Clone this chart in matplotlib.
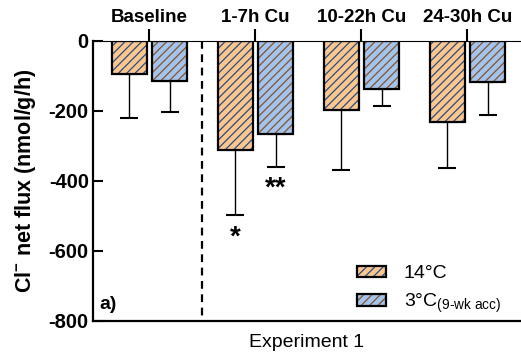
import matplotlib
matplotlib.use('Agg')
import matplotlib.pyplot as plt
import numpy as np
from matplotlib.patches import Patch

plt.rcParams['font.family'] = ['Liberation Sans', 'DejaVu Sans']
plt.rcParams['mathtext.fontset'] = 'custom'
plt.rcParams['mathtext.rm'] = 'Liberation Sans'
plt.rcParams['mathtext.it'] = 'Liberation Sans:italic'
plt.rcParams['mathtext.bf'] = 'Liberation Sans:bold'
plt.rcParams['hatch.linewidth'] = 0.9

# data (nmol/g/h)
groups = ['Baseline', '1-7h Cu', '10-22h Cu', '24-30h Cu']
warm_mean = [-95, -311, -198, -232]   # 14°C
warm_sd = [125, 186, 170, 130]
cold_mean = [-115, -265, -137, -116]  # 3°C (9-wk acc)
cold_sd = [88, 95, 48, 95]
stars_warm = ['', '*', '', '']
stars_cold = ['', '**', '', '']
yticks = [0, -200, -400, -600, -800]

orange = '#FFC68C'
blue = '#A2C4F0'
hatch_on_orange = '#1F4E8A'
hatch_on_blue = '#8A5420'

fig = plt.figure(figsize=(5.21, 3.56), dpi=100)
ax = fig.add_axes([93 / 521, 1 - 321 / 356, 1 - 93 / 521, (321 - 41) / 356])

x = np.arange(len(groups))
w = 0.324
off = 0.19


def draw(xpos, mean, sd, face, hcol):
    # hatched fill first (hatch takes edge colour), black outline on top
    ax.bar(xpos, mean, w, color=face, edgecolor=hcol, hatch='////', linewidth=0, zorder=2)
    ax.bar(xpos, mean, w, fill=False, edgecolor='black', linewidth=1.6, zorder=3)
    ax.errorbar(xpos, mean, yerr=[sd, np.zeros(len(sd))], fmt='none', ecolor='black',
                elinewidth=1, capsize=6.5, capthick=1.5, zorder=1)


draw(x - off, warm_mean, warm_sd, orange, hatch_on_orange)
draw(x + off, cold_mean, cold_sd, blue, hatch_on_blue)

for i in range(len(groups)):
    if stars_warm[i]:
        ax.text(x[i] - off, warm_mean[i] - warm_sd[i] - 28, stars_warm[i], ha='center', va='top',
                fontsize=20, fontweight='bold')
    if stars_cold[i]:
        ax.text(x[i] + off, cold_mean[i] - cold_sd[i] - 25, stars_cold[i], ha='center', va='top',
                fontsize=20, fontweight='bold')

# separator between baseline and exposure
ax.plot([0.5, 0.5], [0, -800], color='black', linestyle=(0, (3.5, 2.5)), linewidth=1.6, zorder=1)

ax.set_xlim(-0.533, 3.505)
ax.set_ylim(-800, 0)

ax.set_yticks(yticks)
ax.set_yticklabels([str(v) for v in yticks], fontsize=14.5, fontweight='bold')
ax.tick_params(axis='y', direction='in', length=7, width=1.5, pad=3)

ax.xaxis.tick_top()
ax.set_xticks(x)
ax.set_xticklabels(groups, fontsize=13.5, fontweight='bold')
ax.tick_params(axis='x', direction='out', length=8.5, width=1.5, pad=2)

ax.spines['right'].set_visible(False)
ax.spines['left'].set_linewidth(1.6)
ax.spines['bottom'].set_linewidth(1.6)
ax.spines['top'].set_linewidth(0.8)

ax.set_ylabel(r'Cl$^{\mathbf{-}}$ net flux (nmol/g/h)', fontsize=15.5, fontweight='bold', labelpad=8)
ax.text(0.5, -0.045, 'Experiment 1', transform=ax.transAxes, ha='center', va='top', fontsize=14)

ax.text(0.015, 0.03, 'a)', transform=ax.transAxes, fontsize=14, fontweight='bold', va='bottom')

# legend
h1 = (Patch(facecolor=orange, edgecolor=hatch_on_orange, hatch='////', linewidth=0),
      Patch(fill=False, edgecolor='black', linewidth=1.6))
h2 = (Patch(facecolor=blue, edgecolor=hatch_on_blue, hatch='////', linewidth=0),
      Patch(fill=False, edgecolor='black', linewidth=1.6))
ax.legend([h1, h2], ['14°C', r'3°C$_{\text{(9-wk acc)}}$'], loc='upper left',
          bbox_to_anchor=(357 / 521, 1 - 265 / 356), bbox_transform=fig.transFigure,
          frameon=False, fontsize=14, borderpad=0, borderaxespad=0,
          handlelength=1.5, handleheight=0.5, handletextpad=0.9, labelspacing=0.5)

fig.savefig('out.png', dpi=100)
